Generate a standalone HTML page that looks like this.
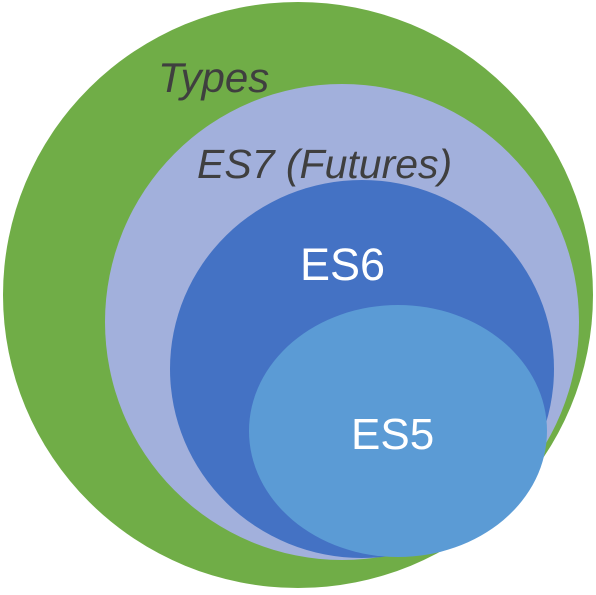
<!DOCTYPE html>
<html><head><style>body{margin:0;background:#fff}</style></head><body>
<svg width="596" height="590" xmlns="http://www.w3.org/2000/svg">
<ellipse cx="298" cy="295" rx="295" ry="293" fill="#70ad47"/>
<ellipse cx="342" cy="322" rx="237" ry="238" fill="#a2b0dc"/>
<ellipse cx="362" cy="369" rx="192" ry="189" fill="#4472c4"/>
<ellipse cx="398" cy="431" rx="149" ry="126" fill="#5b9bd5"/>
<text x="158" y="92" font-family="Liberation Sans, sans-serif" font-style="italic" font-size="42" fill="#3f3f3f">Types</text>
<text x="197" y="178" font-family="Liberation Sans, sans-serif" font-style="italic" font-size="41" fill="#3f3f3f">ES7 (Futures)</text>
<text x="300" y="280" font-family="Liberation Sans, sans-serif" font-size="45" fill="#fff">ES6</text>
<text x="351" y="449" font-family="Liberation Sans, sans-serif" font-size="44" fill="#fff">ES5</text>
</svg>
</body></html>
